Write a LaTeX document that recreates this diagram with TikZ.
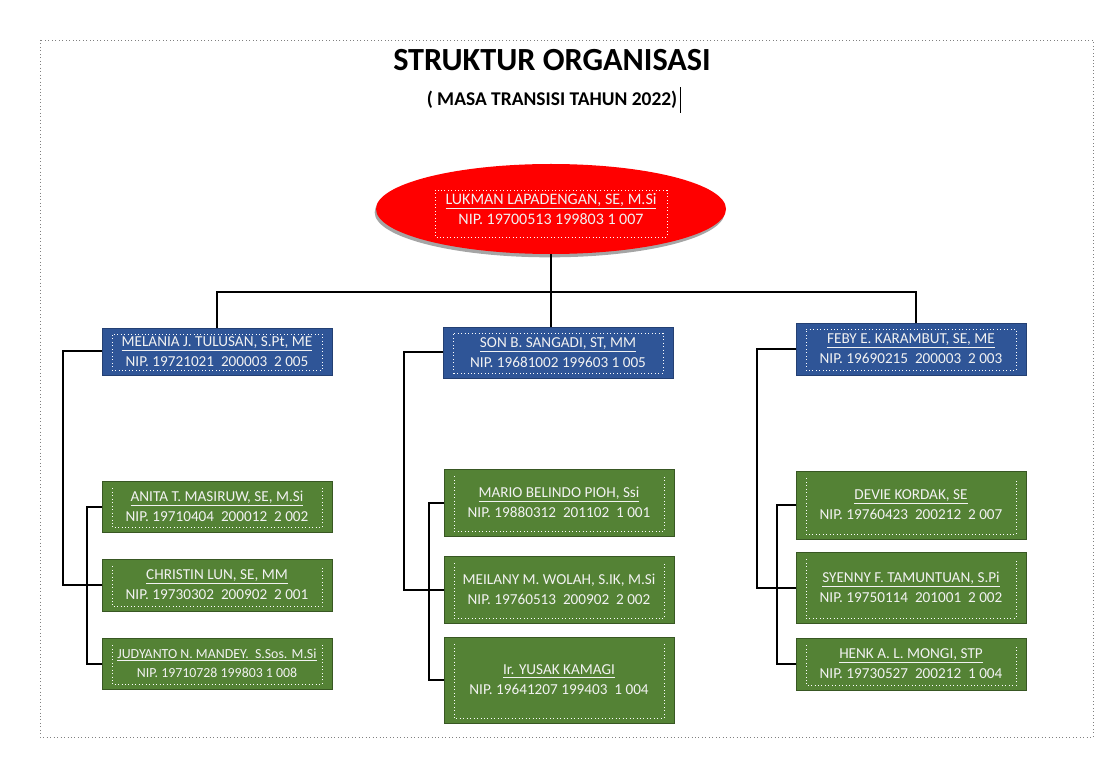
\documentclass[tikz,border=0pt]{standalone}
\usepackage{fontspec}
\setmainfont{Carlito}
\usetikzlibrary{shapes.geometric,shadows,calc}
\definecolor{boxblue}{RGB}{47,85,151}
\definecolor{boxgreen}{RGB}{84,130,53}
\definecolor{greenrim}{RGB}{56,87,35}
\definecolor{bluerim}{RGB}{36,64,115}
\definecolor{txt}{RGB}{242,242,242}
\tikzset{
  conn/.style={draw=black,line width=1.5pt},
  dotbox/.style={draw=white,dotted,line width=0.6pt},
  cardtext/.style={text=txt,align=center,font=\fontsize{11.4}{15}\selectfont,inner sep=0pt},
  bluecard/.style={cardtext,rectangle,fill=boxblue,draw=bluerim,line width=0.6pt,
    minimum width=172.5pt,
    path picture={\draw[dotbox] ([xshift=7.5pt,yshift=3.5pt]path picture bounding box.south west) rectangle ([xshift=-7.5pt,yshift=-4.5pt]path picture bounding box.north east);}},
  greencard/.style={cardtext,rectangle,fill=boxgreen,draw=greenrim,line width=0.6pt,
    minimum width=172.5pt,
    path picture={\draw[dotbox] ([xshift=7.5pt,yshift=-5.5pt]path picture bounding box.north west) |- ([xshift=-7.5pt,yshift=3.5pt]path picture bounding box.south east) -- ([xshift=-7.5pt,yshift=-5.5pt]path picture bounding box.north east);}},
}
\begin{document}
\begin{tikzpicture}[x=0.75pt,y=-0.75pt]
\useasboundingbox[fill=white] (0,0) rectangle (1106,780);
\draw[gray,dotted,line width=0.6pt] (40,40) rectangle (1093,737);

\node[font=\fontsize{24.2}{27}\selectfont\bfseries] (title) at (552,60) {STRUKTUR ORGANISASI};
\node[font=\fontsize{14.6}{16}\selectfont\bfseries,inner sep=1pt] (sub) at (552,100) {( MASA TRANSISI TAHUN 2022)};
\draw[line width=0.8pt] ([xshift=1pt,yshift=2pt]sub.north east) -- ([xshift=1pt,yshift=-2pt]sub.south east);

% head
\node[ellipse,fill=red,minimum width=262.5pt,minimum height=67.5pt,inner sep=0pt,
  drop shadow={shadow xshift=-1pt,shadow yshift=-2.5pt,fill=gray,opacity=0.7},
  text=txt,align=center,font=\fontsize{12}{15}\selectfont] (head) at (551,209)
  {\underline{LUKMAN LAPADENGAN, SE, M.Si}\\NIP. 19700513 199803 1 007};
\draw[dotbox] ($(head.center)+(-116,-19)$) rectangle ($(head.center)+(116,28)$);

% level 2
\node[bluecard,minimum height=35.25pt] (mel) at (217,351.5)
  {\underline{MELANIA J. TULUSAN, S.Pt, ME}\\NIP. 19721021~ 200003~ 2 005};
\node[bluecard,minimum height=38.25pt] (son) at (558,352.5)
  {\underline{SON B. SANGADI, ST, MM}\\NIP. 19681002 199603 1 005};
\node[bluecard,minimum height=39pt] (feby) at (911,349)
  {\underline{FEBY E. KARAMBUT, SE, ME}\\NIP. 19690215~ 200003~ 2 003};

% left column
\node[greencard,minimum height=38.25pt] (ani) at (217,506.5)
  {\underline{ANITA T. MASIRUW, SE, M.Si}\\NIP. 19710404~ 200012~ 2 002};
\node[greencard,minimum height=39pt] (chr) at (217,585)
  {\underline{CHRISTIN LUN, SE, MM}\\NIP. 19730302~ 200902~ 2 001};
\node[greencard,minimum height=38.25pt,font=\fontsize{10.4}{14.5}\selectfont] (jud) at (217,663.5)
  {\underline{JUDYANTO N. MANDEY.~ S.Sos. M.Si}\\NIP. 19710728 199803 1 008};

% middle column
\node[greencard,minimum height=50.25pt] (mar) at (559,502.5)
  {\underline{MARIO BELINDO PIOH, Ssi}\\NIP. 19880312~ 201102~ 1 001};
\node[greencard,minimum height=50.25pt] (mei) at (559,589.5)
  {MEILANY M. WOLAH, S.IK, M.Si\\NIP. 19760513~ 200902~ 2 002};
\node[greencard,minimum height=64.5pt] (yus) at (559,680)
  {\underline{Ir. YUSAK KAMAGI}\\NIP. 19641207 199403~ 1 004};

% right column
\node[greencard,minimum height=51pt] (dev) at (911,505)
  {\underline{DEVIE KORDAK, SE}\\NIP. 19760423~ 200212~ 2 007};
\node[greencard,minimum height=53.25pt] (sye) at (911,587.5)
  {\underline{SYENNY F. TAMUNTUAN, S.Pi}\\NIP. 19750114~ 201001~ 2 002};
\node[greencard,minimum height=39pt] (hen) at (911,664)
  {\underline{HENK A. L. MONGI, STP}\\NIP. 19730527~ 200212~ 1 004};

% connectors
\coordinate (bus) at (551,292);
\coordinate (rdrop) at (916,292);
\draw[conn] (head.south) -- (bus);
\draw[conn] (mel.north) |- (bus) -- (rdrop) -- (rdrop |- feby.north);
\draw[conn] (bus) -- (bus |- son.north);

\draw[conn] (mel.west) -- ++(-39,0) |- (chr.west);
\draw[conn] (ani.west) -- ++(-15,0) |- (jud.west);

\draw[conn] (son.west) -- ++(-39,0) |- (mei.west);
\draw[conn] (mar.west) -- ++(-15,0) |- (yus.west);

\draw[conn] (feby.west) -- ++(-39,0) |- (sye.west);
\draw[conn] (dev.west) -- ++(-19,0) |- (hen.west);
\end{tikzpicture}
\end{document}
